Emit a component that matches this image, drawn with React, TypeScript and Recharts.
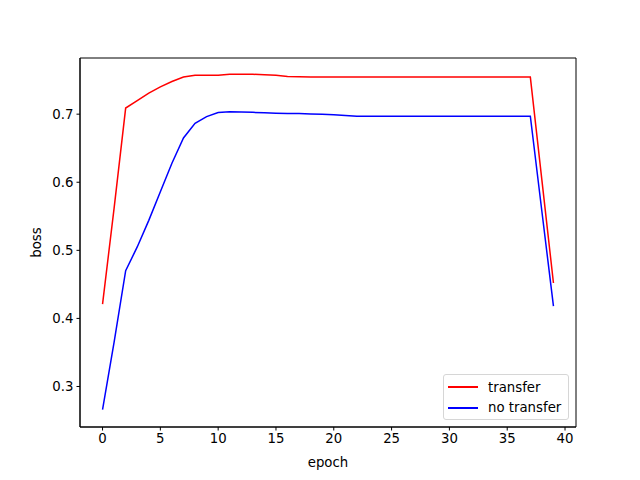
import React from 'react';
import { LineChart, Line, XAxis, YAxis, ReferenceArea } from 'recharts';

// epochs 0..39
const epochs = Array.from({ length: 40 }, (_, i) => i);

const transfer = [
  0.421, 0.562, 0.709, 0.72, 0.731, 0.74, 0.748, 0.7545, 0.757, 0.757,
  0.757, 0.7585, 0.7585, 0.7585, 0.758, 0.757, 0.7555, 0.755, 0.7545, 0.7545,
  0.7545, 0.7545, 0.7545, 0.7545, 0.7545, 0.7545, 0.7545, 0.7545, 0.7545, 0.7545,
  0.7545, 0.7545, 0.7545, 0.7545, 0.7545, 0.7545, 0.7545, 0.7545, 0.603, 0.452,
];

const noTransfer = [
  0.266, 0.365, 0.47, 0.505, 0.544, 0.586, 0.628, 0.665, 0.6866, 0.6964,
  0.7023, 0.7037, 0.7032, 0.7027, 0.702, 0.7013, 0.7008, 0.7008, 0.7003, 0.6998,
  0.699, 0.698, 0.697, 0.697, 0.697, 0.697, 0.697, 0.697, 0.697, 0.697,
  0.697, 0.697, 0.697, 0.697, 0.697, 0.697, 0.697, 0.697, 0.557, 0.418,
];

const xTicks = [0, 5, 10, 15, 20, 25, 30, 35, 40];
const yTicks = [0.3, 0.4, 0.5, 0.6, 0.7];

const X_DOMAIN = [-1.95, 40.95];
const Y_DOMAIN = [0.2405, 0.7825];

const data = epochs.map((e, i) => ({
  epoch: e,
  transfer: transfer[i],
  noTransfer: noTransfer[i],
}));

const FONT = 'DejaVu Sans, sans-serif';
const tickStyle = { fontSize: 13.3, fill: '#000', fontFamily: FONT };

const legendItems = [
  { name: 'transfer', color: 'red' },
  { name: 'no transfer', color: 'blue' },
];

// matplotlib-ish legend box, lower right of the axes
const MplLegend = () => (
  <div
    style={{
      position: 'absolute',
      left: 443,
      top: 374,
      width: 126,
      height: 46,
      boxSizing: 'border-box',
      border: '1px solid #d6d6d6',
      borderRadius: 3,
      background: 'rgba(255,255,255,0.8)',
      fontFamily: FONT,
      fontSize: 13.3,
      color: '#000',
      paddingTop: 2,
    }}
  >
    {legendItems.map((it) => (
      <div key={it.name} style={{ display: 'flex', alignItems: 'center', height: 20.5 }}>
        <svg width={44} height={10} style={{ flex: 'none' }}>
          <line x1={4} x2={34} y1={5} y2={5} stroke={it.color} strokeWidth={2} />
        </svg>
        <span>{it.name}</span>
      </div>
    ))}
  </div>
);

export default function App() {
  return (
    <div style={{ position: 'absolute', left: 0, top: 0, width: 640, height: 480, background: '#fff' }}>
      <LineChart width={640} height={480} data={data} margin={{ top: 58, right: 64, bottom: 0, left: 0 }}>
        <XAxis
          dataKey="epoch"
          type="number"
          domain={X_DOMAIN}
          ticks={xTicks}
          allowDataOverflow
          height={53}
          stroke="#000"
          tickSize={3.5}
          tickMargin={3}
          tick={tickStyle}
          label={{ value: 'epoch', position: 'insideBottom', offset: 13, style: { fontSize: 13.3, fill: '#000', fontFamily: FONT } }}
        />
        <YAxis
          type="number"
          domain={Y_DOMAIN}
          ticks={yTicks}
          allowDataOverflow
          width={80}
          stroke="#000"
          tickSize={3.5}
          tickMargin={3}
          tick={tickStyle}
          tickFormatter={(v: number) => v.toFixed(1)}
          label={{ value: 'boss', angle: -90, position: 'insideLeft', offset: 36, style: { fontSize: 13.3, fill: '#000', fontFamily: FONT, textAnchor: 'middle' } }}
        />
        {/* axes frame (top/right spines) */}
        <ReferenceArea
          x1={X_DOMAIN[0]}
          x2={X_DOMAIN[1]}
          y1={Y_DOMAIN[0]}
          y2={Y_DOMAIN[1]}
          fill="none"
          fillOpacity={0}
          stroke="#000"
          strokeWidth={1}
          ifOverflow="visible"
        />
        <Line
          type="linear"
          dataKey="transfer"
          name="transfer"
          stroke="red"
          strokeWidth={1.5}
          dot={false}
          isAnimationActive={false}
        />
        <Line
          type="linear"
          dataKey="noTransfer"
          name="no transfer"
          stroke="blue"
          strokeWidth={1.5}
          dot={false}
          isAnimationActive={false}
        />
      </LineChart>
      <MplLegend />
    </div>
  );
}
